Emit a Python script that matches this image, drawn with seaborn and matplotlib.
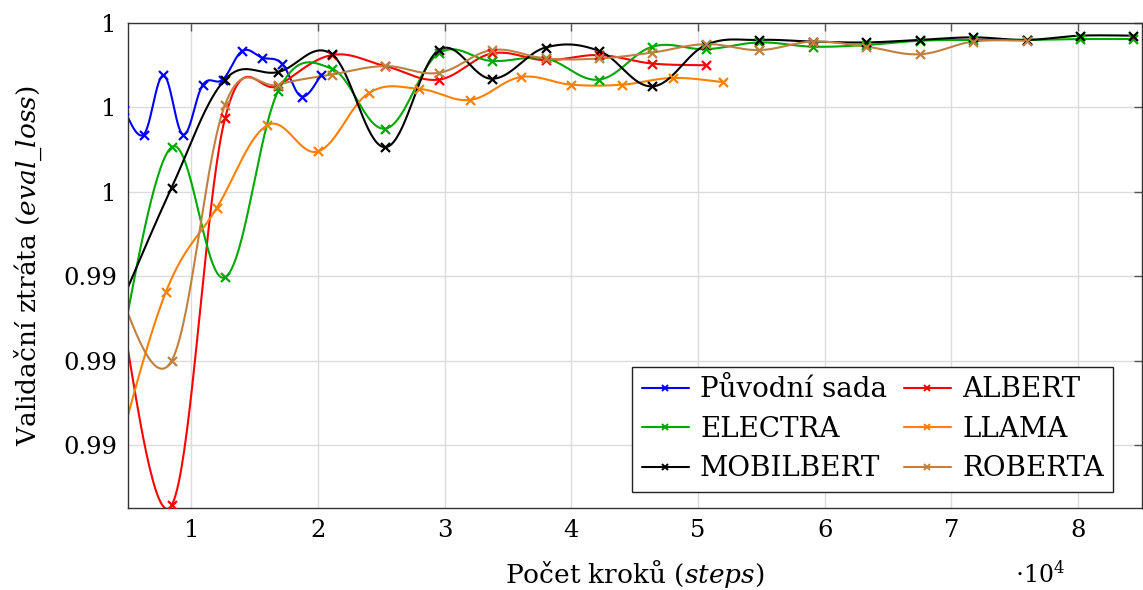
import numpy as np
import pandas as pd
import matplotlib
matplotlib.use("Agg")
import matplotlib.pyplot as plt
import seaborn as sns
from matplotlib.lines import Line2D
from matplotlib.ticker import FixedLocator, FuncFormatter


# ==========================================
# Data (validation loss)
# ==========================================

models = ["Původní sada", "ALBERT", "ELECTRA", "LLAMA", "MOBILBERT", "ROBERTA"]
colors = ["#0000ff", "#ff0000", "#00a800", "#ff8000", "#000000", "#bf8040"]

puvodni_steps = [4677, 6236, 7795, 9354, 10913, 12472, 14031, 15590, 17149, 18708, 20267]
puvodni_loss = [0.99647, 0.99618, 0.99688, 0.99618, 0.99677, 0.99683,
                0.99717, 0.99709, 0.99702, 0.99663, 0.99689]

albert_steps = [4218, 8436, 12654, 16872, 21090, 25308, 29526, 33744,
                37962, 42180, 46398, 50616]
albert_loss = [0.99428, 0.99179, 0.99637, 0.99676, 0.99712, 0.99699,
               0.99683, 0.99714, 0.99706, 0.99712, 0.99702, 0.99700]

electra_steps = [4218, 8436, 12654, 16872, 21090, 25308, 29526, 33744, 37962, 42180,
                 46398, 50616, 54834, 59052, 63270, 67488, 71706, 75924, 80142, 84360]
electra_loss = [0.99351, 0.99603, 0.99449, 0.99670, 0.99696, 0.99625, 0.99714,
                0.99705, 0.99708, 0.99683, 0.99722, 0.99719, 0.99727, 0.99722,
                0.99724, 0.99729, 0.99730, 0.99730, 0.99731, 0.99731]

llama_steps = [4000, 8000, 12000, 16000, 20000, 24000, 28000, 32000,
               36000, 40000, 44000, 48000, 52000]
llama_loss = [0.99232, 0.99432, 0.99531, 0.99629, 0.99598, 0.99667, 0.99672,
              0.99659, 0.99686, 0.99677, 0.99677, 0.99685, 0.99680]

mobilbert_steps = [4218, 8436, 12654, 16872, 21090, 25308, 29526, 33744, 37962, 42180,
                   46398, 50616, 54834, 59052, 63270, 67488, 71706, 75924, 80142, 84360]
mobilbert_loss = [0.99410, 0.99555, 0.99683, 0.99692, 0.99713, 0.99603, 0.99718,
                  0.99684, 0.99721, 0.99717, 0.99675, 0.99724, 0.99730, 0.99728,
                  0.99727, 0.99730, 0.99733, 0.99730, 0.99735, 0.99735]

roberta_steps = [4218, 8436, 12654, 16872, 21090, 25308, 29526, 33744, 37962,
                 42180, 46398, 50616, 54834, 59052, 63270, 67488, 71706, 75924]
roberta_loss = [0.99431, 0.99350, 0.99653, 0.99677, 0.99689, 0.99699, 0.99691,
                0.99718, 0.99708, 0.99708, 0.99715, 0.99725, 0.99718, 0.99728,
                0.99722, 0.99713, 0.99728, 0.99729]

y_ticks = [0.9925, 0.9935, 0.9945, 0.9955, 0.9965, 0.9975]
x_ticks = [10000, 20000, 30000, 40000, 50000, 60000, 70000, 80000]


points = pd.concat([
    pd.DataFrame({"model": m, "step": s, "loss": l})
    for m, s, l in zip(
        models,
        [puvodni_steps, albert_steps, electra_steps, llama_steps, mobilbert_steps, roberta_steps],
        [puvodni_loss, albert_loss, electra_loss, llama_loss, mobilbert_loss, roberta_loss],
    )
], ignore_index=True)


# smooth drawing like pgfplots "smooth" (bezier, tension 0.55)
def smooth_curve(xs, ys, tension=0.55, n=40):
    p = np.column_stack([xs, ys]).astype(float)
    t = tension / 3
    out = [p[0]]
    u = np.linspace(0, 1, n)[1:, None]
    for i in range(len(p) - 1):
        prev = p[i - 1] if i > 0 else p[i]
        nxt = p[i + 2] if i + 2 < len(p) else p[i + 1]
        c1 = p[i] + t * (p[i + 1] - prev)
        c2 = p[i + 1] - t * (nxt - p[i])
        seg = ((1 - u) ** 3 * p[i] + 3 * (1 - u) ** 2 * u * c1
               + 3 * (1 - u) * u ** 2 * c2 + u ** 3 * p[i + 1])
        out.extend(seg)
    out = np.array(out)
    return out[:, 0], out[:, 1]


# ==========================================
# Style
# ==========================================

sns.set_style("whitegrid")
plt.rcParams["font.family"] = ["DejaVu Serif"]
plt.rcParams["mathtext.fontset"] = "dejavuserif"
plt.rcParams["text.color"] = "black"
plt.rcParams["axes.labelcolor"] = "black"
plt.rcParams["xtick.labelcolor"] = "black"
plt.rcParams["ytick.labelcolor"] = "black"

fig = plt.figure(figsize=(11.43, 5.90), dpi=100)
ax = fig.add_axes([128 / 1143, 82 / 590, 1013.5 / 1143, 485 / 590])


# ==========================================
# Plot
# ==========================================

for model, color in zip(models, colors):
    sub = points[points["model"] == model]
    cx, cy = smooth_curve(sub["step"].values, sub["loss"].values)
    curve = pd.DataFrame({"step": cx, "loss": cy})
    sns.lineplot(data=curve, x="step", y="loss", color=color, linewidth=1.5,
                 sort=False, estimator=None, ax=ax)
    sns.scatterplot(data=sub, x="step", y="loss", color=color, marker="x",
                    s=42, linewidth=1.6, ax=ax, zorder=3)

ax.set_xlim(5000, 85000)
ax.set_ylim(0.99176, 0.9975)

ax.xaxis.set_major_locator(FixedLocator(x_ticks))
ax.xaxis.set_major_formatter(FuncFormatter(lambda v, p: f"{v / 1e4:g}"))
ax.yaxis.set_major_locator(FixedLocator(y_ticks))
ax.yaxis.set_major_formatter(FuncFormatter(lambda v, p: f"{round(v, 2):g}"))

ax.grid(True, color="#dcdcdc", linewidth=1.0)
for sp in ax.spines.values():
    sp.set_color("#333333")
    sp.set_linewidth(1.0)

ax.tick_params(direction="in", length=6, width=1, color="#555555",
               labelcolor="black", top=True, right=True, labelsize=17.5, pad=8)

ax.set_xlabel(r"Počet kroků ($\mathit{steps}$)", fontsize=19, labelpad=11)
ax.set_ylabel(r"Validační ztráta ($\mathit{eval\_loss}$)", fontsize=19, labelpad=14)

ax.text(0.9, -0.137, r"$\cdot10^4$", transform=ax.transAxes, fontsize=17,
        ha="center", va="center")

# legend: pgfplots fills rows, matplotlib fills columns
handles = {
    m: Line2D([], [], color=c, marker="x", markersize=5, markeredgewidth=1.4,
              linewidth=1.5)
    for m, c in zip(models, colors)
}
order = ["Původní sada", "ELECTRA", "MOBILBERT", "ALBERT", "LLAMA", "ROBERTA"]
leg = ax.legend([handles[m] for m in order], order, ncol=2, loc="lower right",
                bbox_to_anchor=(1 - 28 / 1013, 16 / 485), borderaxespad=0,
                fontsize=20, frameon=True, fancybox=False, framealpha=1,
                edgecolor="#222222", handlelength=1.7, handletextpad=0.4,
                columnspacing=0.6, labelspacing=0.45, borderpad=0.35)
leg.get_frame().set_linewidth(1.0)

fig.savefig("out.png", dpi=100)
